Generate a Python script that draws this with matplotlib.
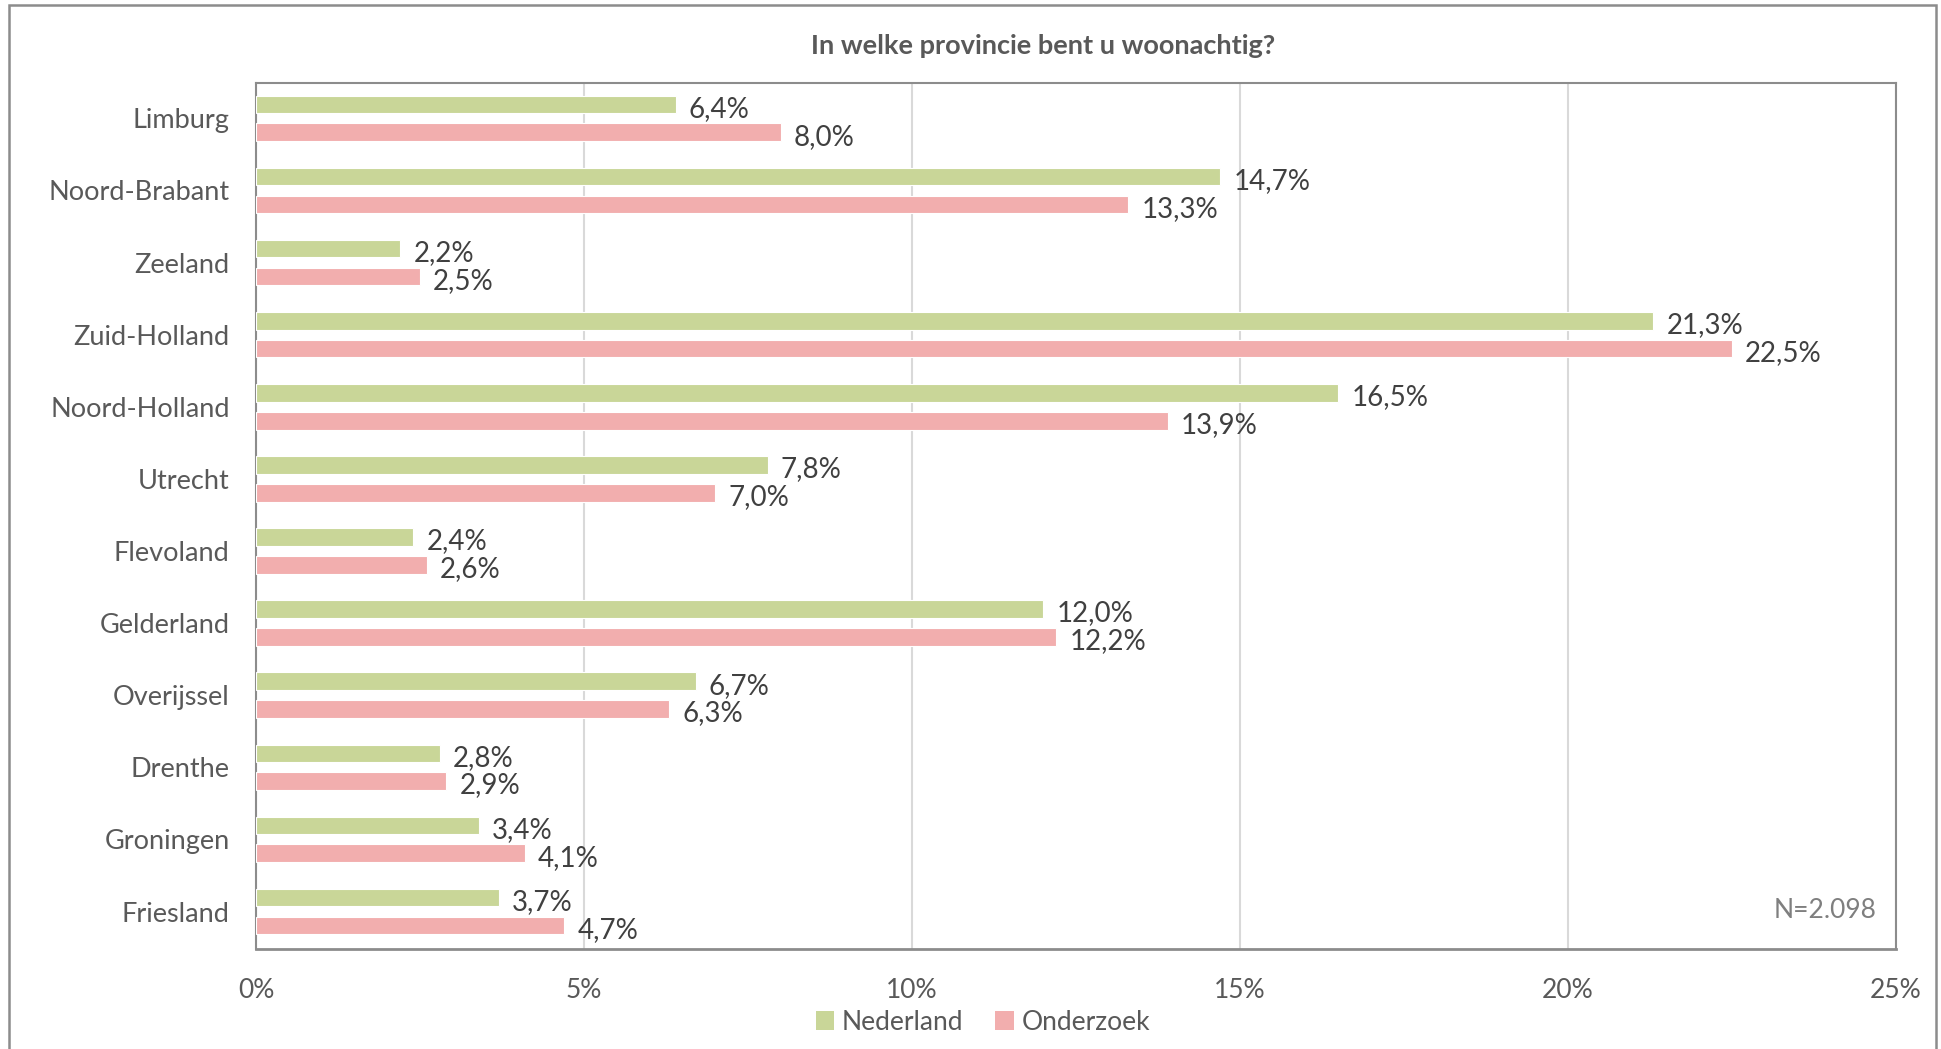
import matplotlib
matplotlib.use("Agg")
import matplotlib.pyplot as plt
from matplotlib.patches import Rectangle, Patch
import numpy as np

provinces = ["Limburg", "Noord-Brabant", "Zeeland", "Zuid-Holland", "Noord-Holland",
             "Utrecht", "Flevoland", "Gelderland", "Overijssel", "Drenthe",
             "Groningen", "Friesland"]
nederland = [6.4, 14.7, 2.2, 21.3, 16.5, 7.8, 2.4, 12.0, 6.7, 2.8, 3.4, 3.7]
onderzoek = [8.0, 13.3, 2.5, 22.5, 13.9, 7.0, 2.6, 12.2, 6.3, 2.9, 4.1, 4.7]
xticks = [0, 5, 10, 15, 20, 25]
title = "In welke provincie bent u woonachtig?"
note = "N=2.098"

plt.rcParams['font.family'] = ['Lato', 'DejaVu Sans']

W, H = 1941, 1049
fig = plt.figure(figsize=(W / 100, H / 100), dpi=100)
left, right, top, bottom = 256, 1896, 83, 949
ax = fig.add_axes([left / W, 1 - bottom / H, (right - left) / W, (bottom - top) / H])

green = "#C9D698"
pink = "#F2AEAE"
y = np.arange(len(provinces))
h = 0.245
off = 0.193
ax.barh(y - off, nederland, height=h, color=green, edgecolor="white", linewidth=0.8, zorder=3, label="Nederland")
ax.barh(y + off, onderzoek, height=h, color=pink, edgecolor="white", linewidth=0.8, zorder=3, label="Onderzoek")

dy = 0.06
for yi, v in zip(y, nederland):
    ax.text(v + 0.2, yi - off + dy, f"{v:.1f}%".replace(".", ","), va="center", ha="left",
            fontsize=20, color="#404040")
for yi, v in zip(y, onderzoek):
    ax.text(v + 0.2, yi + off + dy, f"{v:.1f}%".replace(".", ","), va="center", ha="left",
            fontsize=20, color="#404040")

ax.set_xlim(0, 25)
ax.set_ylim(len(provinces) - 0.5 + 0.02, -0.5 + 0.01)
ax.set_yticks(y)
ax.set_yticklabels(provinces, fontsize=19.5, color="#595959")
ax.set_xticks(xticks)
ax.set_xticklabels([f"{t}%" for t in xticks], fontsize=19, color="#595959")
ax.tick_params(axis="both", length=0)
ax.tick_params(axis="y", pad=19)
ax.tick_params(axis="x", pad=21)
ax.grid(axis="x", color="#D9D9D9", linewidth=1.5, zorder=0)
for s in ax.spines.values():
    s.set_color("#8C8C8C")
    s.set_linewidth(1.5)
ax.spines["bottom"].set_linewidth(2.0)

ax.text(0.988, 0.030, note, transform=ax.transAxes, ha="right", va="bottom",
        fontsize=19, color="#7F7F7F")

fig.text(1043 / W, 1 - 46 / H, title, ha="center", va="center", fontsize=19.5,
         fontweight="bold", color="#595959")

handles = [Patch(facecolor=green, edgecolor="none"), Patch(facecolor=pink, edgecolor="none")]
fig.legend(handles, ["Nederland", "Onderzoek"], loc="center", bbox_to_anchor=(983 / W, 1 - 1022 / H),
           ncol=2, frameon=False, fontsize=19, handlelength=0.7, handleheight=0.7,
           handletextpad=0.3, columnspacing=1.2, labelcolor="#595959")

fig.patches.append(Rectangle((9 / W, -0.05), (1936 - 9) / W, 1 - 5 / H + 0.05,
                             transform=fig.transFigure, fill=False, edgecolor="#8C8C8C",
                             linewidth=1.8))

fig.savefig("out.png", dpi=100, facecolor="white")
